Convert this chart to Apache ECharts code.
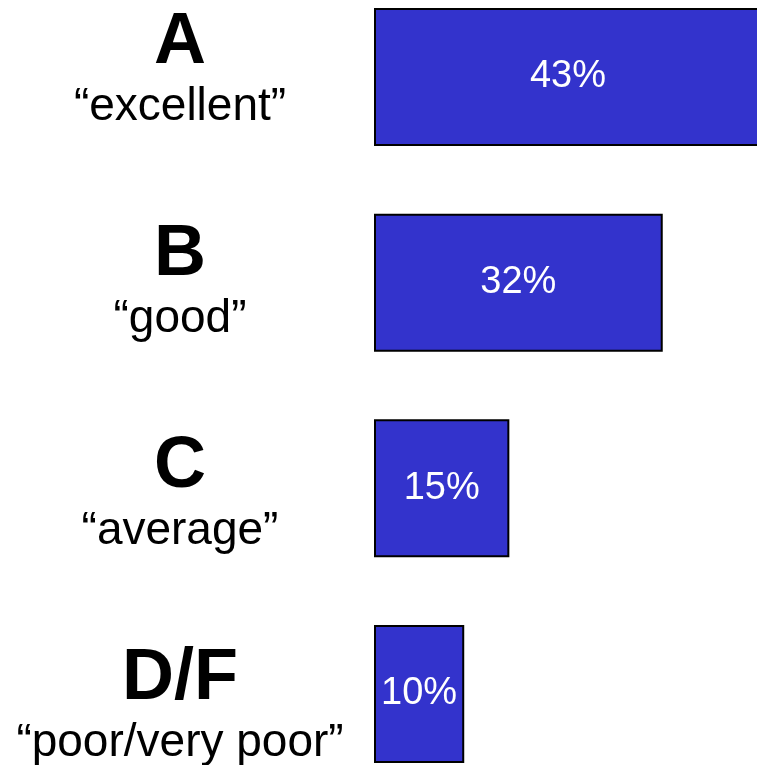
<!DOCTYPE html>
<html>
<head>
<meta charset="utf-8">
<script src="https://cdn.jsdelivr.net/npm/echarts@6/dist/echarts.min.js"></script>
<style>
html,body{margin:0;padding:0;background:#fff;}
#chart{width:757px;height:765px;}
</style>
</head>
<body>
<div id="chart"></div>
<script>
const grades = ['A', 'B', 'C', 'D/F'];
const descriptors = ['“excellent”', '“good”', '“average”', '“poor/very poor”'];
const values = [43, 32, 15, 10];

const font = '"Liberation Sans", Arial, sans-serif';
const chart = echarts.init(document.getElementById('chart'));
chart.setOption({
  animation: false,
  backgroundColor: '#ffffff',
  grid: [
    { left: 374, top: 77, width: 388, height: 617, containLabel: false, outerBoundsMode: 'none' },
    { left: 374, top: 77, width: 388, height: 636, containLabel: false, outerBoundsMode: 'none' }
  ],
  xAxis: [
    { type: 'value', min: 0, max: 43, show: false, gridIndex: 0 },
    { type: 'value', min: 0, max: 43, show: false, gridIndex: 1 }
  ],
  yAxis: [
    {
      type: 'category',
      gridIndex: 0,
      inverse: true,
      boundaryGap: false,
      data: grades,
      axisLine: { show: false },
      axisTick: { show: false },
      splitLine: { show: false },
      axisLabel: { show: false }
    },
    {
      type: 'category',
      gridIndex: 1,
      inverse: true,
      boundaryGap: false,
      data: grades,
      axisLine: { show: false },
      axisTick: { show: false },
      splitLine: { show: false },
      axisLabel: {
        margin: 194,
        align: 'center',
        formatter: function (v, i) {
          return '{big|' + v + '}\n{small|' + descriptors[i] + '}';
        },
        rich: {
          big: { fontFamily: font, fontWeight: 'bold', fontSize: 72, lineHeight: 60, color: '#000', align: 'center' },
          small: { fontFamily: font, fontSize: 46, lineHeight: 68, color: '#000', align: 'center' }
        }
      }
    }
  ],
  series: [{
    type: 'bar',
    xAxisIndex: 0,
    yAxisIndex: 0,
    data: values,
    barWidth: 138,
    clip: false,
    itemStyle: { color: '#3333cc', borderColor: '#000', borderWidth: 2 },
    label: {
      show: true,
      position: 'inside',
      formatter: '{c}%',
      color: '#ffffff',
      fontFamily: font,
      fontSize: 38
    }
  }]
});
</script>
</body>
</html>
